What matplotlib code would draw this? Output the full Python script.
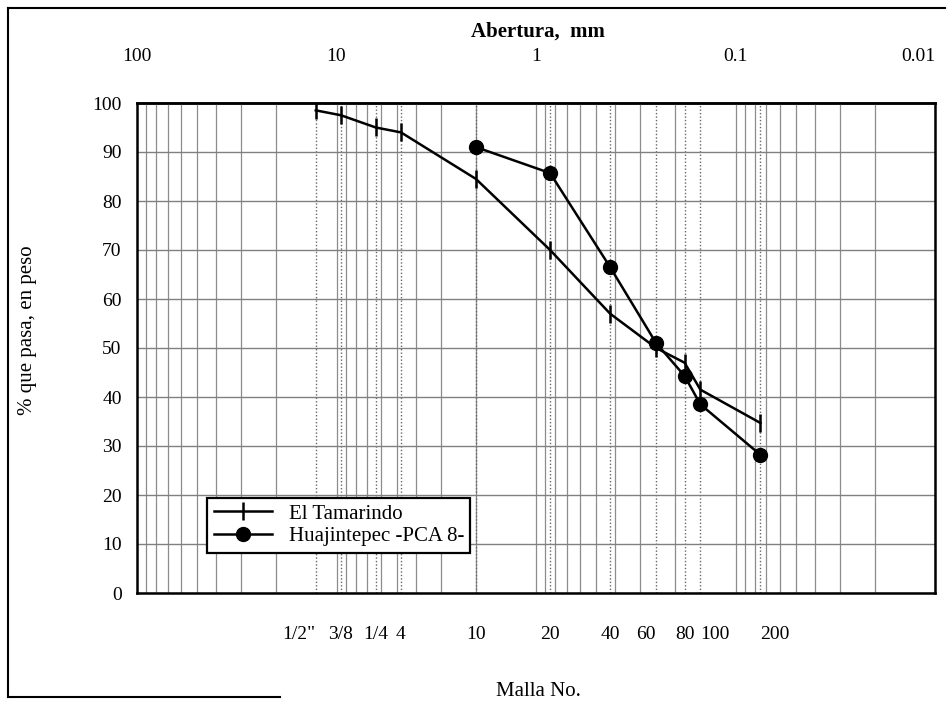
import matplotlib.pyplot as plt
from matplotlib.lines import Line2D

plt.rcParams["font.family"] = ["Liberation Serif", "DejaVu Serif"]

# Mallas (tamices) y su abertura en mm
mallas = ['1/2"', "3/8", "1/4", "4", "10", "20", "40", "60", "80", "100", "200"]
abertura_mm = [12.7, 9.5, 6.35, 4.75, 2.0, 0.85, 0.425, 0.25, 0.18, 0.15, 0.075]

# % que pasa, en peso
tamarindo = [98.5, 97.5, 95.0, 94.0, 84.5, 70.0, 57.0, 50.0, 47.0, 41.5, 34.7]
huaj_abertura = [2.0, 0.85, 0.425, 0.25, 0.18, 0.15, 0.075]
huajintepec = [91.0, 85.7, 66.5, 51.0, 44.3, 38.5, 28.2]

top_ticks = [100, 10, 1, 0.1, 0.01]
top_labels = ["100", "10", "1", "0.1", "0.01"]
y_ticks = list(range(0, 101, 10))

fig = plt.figure(figsize=(9.49, 7.08), dpi=100)
ax = fig.add_axes([137 / 949, 1 - 593 / 708, (935 - 137) / 949, 490 / 708])

ax.set_xscale("log")
ax.set_xlim(100, 0.01)
ax.set_ylim(0, 100)

# rejilla logaritmica
for dec in [0.01, 0.1, 1, 10]:
    for m in range(1, 10):
        ax.axvline(dec * m, color="0.55", lw=0.9, zorder=1)
for s in abertura_mm:
    ax.axvline(s, color="0.4", lw=1.0, ls=(0, (1, 1.5)), zorder=1)
for yv in y_ticks:
    ax.axhline(yv, color="0.5", lw=1.0, zorder=1)

ax.plot(abertura_mm, tamarindo, color="black", lw=1.8, marker="|",
        markersize=13, markeredgewidth=1.8, label="El Tamarindo", zorder=3)
ax.plot(huaj_abertura, huajintepec, color="black", lw=1.8, marker="o",
        markersize=10, label="Huajintepec -PCA 8-", zorder=4)

ax.xaxis.set_minor_locator(plt.NullLocator())
ax.set_xticks(abertura_mm)
ax.set_xticklabels(mallas, fontsize=14)
alineacion = {'1/2"': "right", "60": "right", "100": "left", "200": "left"}
for lab in ax.get_xticklabels():
    lab.set_horizontalalignment(alineacion.get(lab.get_text(), "center"))
ax.tick_params(axis="x", length=0, pad=24)

ax.set_yticks(y_ticks)
ax.set_yticklabels([str(v) for v in y_ticks], fontsize=14)
ax.tick_params(axis="y", length=0, pad=11)

sec = ax.secondary_xaxis("top")
sec.set_xticks(top_ticks)
sec.set_xticklabels(top_labels, fontsize=14)
sec.get_xticklabels()[-1].set_horizontalalignment("right")
sec.xaxis.set_minor_locator(plt.NullLocator())
sec.tick_params(length=0, pad=27)
sec.spines["top"].set_linewidth(1.8)

for sp in ax.spines.values():
    sp.set_linewidth(1.8)
    sp.set_color("black")

fig.text(538 / 949, 1 - 32 / 708, "Abertura,  mm", ha="center", va="center",
         fontsize=15, fontweight="bold")
fig.text(538 / 949, 1 - 692 / 708, "Malla No.", ha="center", va="center",
         fontsize=15)
fig.text(28 / 949, 1 - 330 / 708, "% que pasa, en peso", ha="center",
         va="center", rotation=90, fontsize=15)

leg = ax.legend(loc="lower left", bbox_to_anchor=(0.075, 0.061), fontsize=15,
                fancybox=False, framealpha=1, edgecolor="black",
                borderpad=0.3, handlelength=2.8, labelspacing=0.15)
leg.get_frame().set_linewidth(1.6)

# marco de la figura
fig.add_artist(Line2D([8 / 949, 945 / 949], [1 - 8 / 708, 1 - 8 / 708],
                      color="black", lw=1.5))
fig.add_artist(Line2D([8 / 949, 8 / 949], [1 - 8 / 708, 1 - 697 / 708],
                      color="black", lw=1.5))
fig.add_artist(Line2D([8 / 949, 280 / 949], [1 - 697 / 708, 1 - 697 / 708],
                      color="black", lw=1.5))

fig.savefig("out.png", dpi=100)
